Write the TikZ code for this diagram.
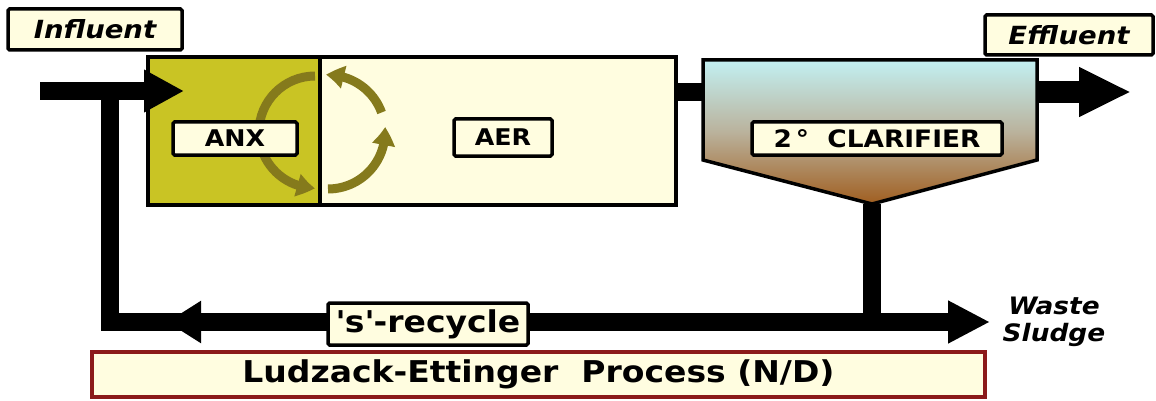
\documentclass[tikz,border=0pt]{standalone}
\usepackage{fontspec}
\setmainfont{DejaVu Sans}[FakeStretch=1.1]
\usetikzlibrary{arrows.meta,bending,calc}
\definecolor{cream}{HTML}{FFFDE0}
\definecolor{anxcol}{HTML}{C9C424}
\definecolor{arccol}{HTML}{857A1C}
\definecolor{ludred}{HTML}{8B1A1A}
\definecolor{clartop}{HTML}{C2F0F2}
\definecolor{clarmid}{HTML}{BAB29C}
\definecolor{clarbot}{HTML}{A05E20}
\begin{document}
\begin{tikzpicture}[x=1pt,y=-1pt,
  tag/.style={draw, line width=3.5pt, fill=cream, inner sep=0pt, rounded corners=1.5pt,
    font=\bfseries\fontsize{23}{26}\selectfont},
  itag/.style={tag, font=\bfseries\itshape\fontsize{25}{28}\selectfont},
  tank/.style={draw, line width=3.5pt, inner sep=0pt},
  pipe/.style={line width=18pt},
  bigtip/.style={-{Triangle[length=40pt,width=40pt]}},
  mix/.style={arccol, line width=9pt, -{Triangle[length=18pt,width=22pt,bend]}}]
\useasboundingbox (0,0) rectangle (1156,401);

% tanks
\node[tank, fill=anxcol, minimum width=172pt, minimum height=148pt] (anx) at (234,131) {};
\node[tank, fill=cream, minimum width=356pt, minimum height=148pt] (aer) at (498,131) {};
\coordinate (clapex) at (872,204);
\shade[top color=clartop, bottom color=clarbot, middle color=clarmid]
  (703,60) -- (1037,60) -- (1037,160) -- (clapex) -- (703,160) -- cycle;
\draw[line width=3.5pt, line join=miter]
  (703,60) -- (1037,60) -- (1037,160) -- (clapex) -- (703,160) -- cycle;
\coordinate (clarL) at (703,92);
\coordinate (clarR) at (1037,92);

% mixing arrows
\draw[mix] (315,76) arc[start angle=-90, end angle=-270, radius=56];
\draw[mix] (328,189) arc[start angle=90, end angle=-5, radius=57];
\draw[mix] ($(328,132)+(-20:57)$) arc[start angle=-20, end angle=-92, radius=57];

% labels
\node[tag, minimum width=124pt, minimum height=33pt] (anxl) at (235,138.5) {ANX};
\node[tag, minimum width=98pt, minimum height=37pt] (aerl) at (503,137.5) {AER};
\node[tag, font=\bfseries\fontsize{24}{27}\selectfont, minimum width=250pt, minimum height=33pt] (clarl) at (877,138.5) {2\,°\ \ CLARIFIER};
\node[itag, minimum width=174pt, minimum height=41pt] (infl) at (95,29.5) {Influent};
\node[itag, minimum width=168pt, minimum height=40pt] (effl) at (1069,35) {Effluent};
\node[font=\bfseries\itshape\fontsize{24}{27}\selectfont, align=center, inner sep=0pt] (waste) at (1054,322) {Waste\\Sludge};
\node[draw=ludred, line width=4.5pt, fill=cream, inner sep=0pt, minimum width=893pt, minimum height=45pt,
  font=\bfseries\fontsize{30}{33}\selectfont] (lud) at (538.5,374.5) {Ludzack-Ettinger\ \ Process (N/D)};

% pipes
\coordinate (inflow) at (40,91);
\coordinate (intip) at (184,91);
\draw[pipe, bigtip] (inflow) -- (intip);
\draw[pipe] (aer.east |- clarL) -- (clarL);
\coordinate (efftip) at (1131,92);
\draw[line width=22pt, -{Triangle[length=52pt,width=46pt]}] (clarR) -- (efftip);
\coordinate (junc) at (872,322);
\coordinate (corner) at (110,322);
\coordinate (wastetip) at (990,322);
\draw[pipe, line join=miter] (clapex) -- (junc) -- (corner) -- (110,91);
\draw[pipe, -{Triangle[length=42pt,width=40pt]}] (junc) -- (wastetip);
\coordinate (rtail) at (205,322);
\coordinate (rtip) at (167,322);
\draw[pipe, -{Triangle[length=34pt,width=40pt]}] (rtail) -- (rtip);
\node[tag, font=\bfseries\fontsize{30}{33}\selectfont, minimum width=200pt, minimum height=42pt] (recl) at (428,324) {\textquotesingle s\textquotesingle -recycle};
\end{tikzpicture}
\end{document}
